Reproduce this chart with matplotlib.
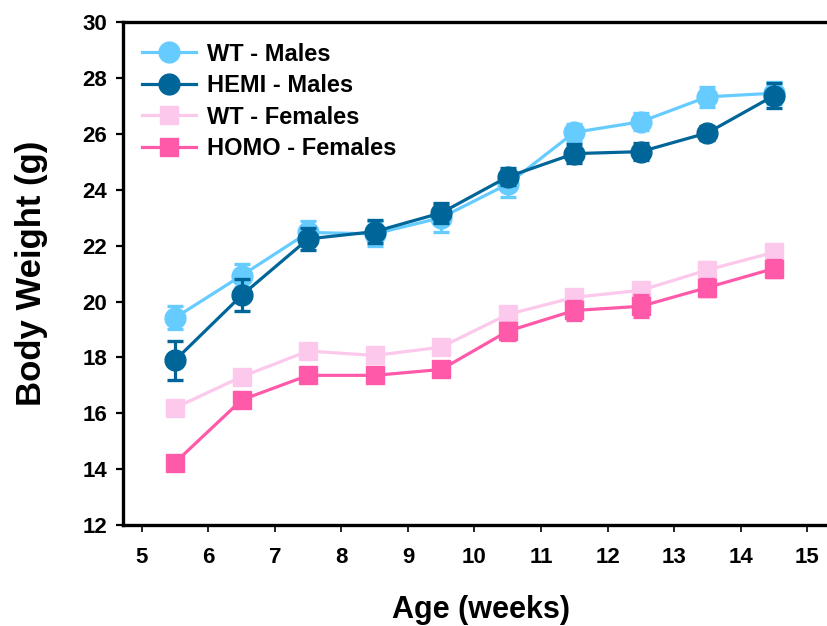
import matplotlib
matplotlib.use('Agg')
import matplotlib.pyplot as plt

plt.rcParams['font.family'] = ['Liberation Sans', 'DejaVu Sans']
plt.rcParams['font.weight'] = 'bold'

# Dados
weeks = [5.5, 6.5, 7.5, 8.5, 9.5, 10.5, 11.5, 12.5, 13.5, 14.5]

wt_males = [19.42, 20.93, 22.47, 22.42, 23.0, 24.2, 26.05, 26.43, 27.32, 27.45]
wt_males_err = [0.42, 0.42, 0.4, 0.45, 0.5, 0.45, 0.3, 0.3, 0.35, 0.4]

hemi_males = [17.9, 20.22, 22.24, 22.5, 23.17, 24.46, 25.29, 25.36, 26.03, 27.36]
hemi_males_err = [0.7, 0.57, 0.4, 0.4, 0.35, 0.3, 0.35, 0.3, 0.25, 0.45]

wt_females = [16.2, 17.31, 18.23, 18.07, 18.37, 19.54, 20.15, 20.4, 21.13, 21.76]
wt_females_err = [0.2, 0.2, 0.2, 0.2, 0.2, 0.25, 0.25, 0.25, 0.3, 0.25]

homo_females = [14.24, 16.48, 17.36, 17.36, 17.57, 18.94, 19.68, 19.83, 20.5, 21.18]
homo_females_err = [0.2, 0.25, 0.25, 0.25, 0.25, 0.3, 0.35, 0.4, 0.3, 0.3]

series = [
    ('WT - Males', wt_males, wt_males_err, '#66ccff', 'o', 15),
    ('HEMI - Males', hemi_males, hemi_males_err, '#006699', 'o', 15),
    ('WT - Females', wt_females, wt_females_err, '#fcc8ec', 's', 12.5),
    ('HOMO - Females', homo_females, homo_females_err, '#ff5aaa', 's', 12.5),
]

fig = plt.figure(figsize=(8.28, 6.26), dpi=100)
ax = fig.add_axes([0.148, 0.161, 0.867, 0.804])

z = 2
for label, vals, errs, color, marker, ms in series:
    ax.errorbar(weeks, vals, yerr=errs, fmt='none', ecolor=color,
                elinewidth=2.3, capsize=5.5, capthick=2.4, zorder=z)
    ax.plot(weeks, vals, color=color, marker=marker, markersize=ms,
            linewidth=2.3, label=label, zorder=z + 0.5)
    z += 1

ax.set_xlim(4.71, 15.5)
ax.set_ylim(12, 30)
ax.set_xticks(range(5, 16))
ax.set_yticks(range(12, 31, 2))

for side in ['left', 'bottom', 'top']:
    ax.spines[side].set_linewidth(2.4)
ax.spines['right'].set_visible(False)

ax.tick_params(axis='y', direction='out', length=5, width=1.6, pad=6,
               labelsize=16)
ax.tick_params(axis='x', direction='out', length=5, width=1.2, pad=11,
               labelsize=16)
for lab in ax.get_xticklabels() + ax.get_yticklabels():
    lab.set_fontweight('bold')

ax.set_xlabel('Age (weeks)', fontsize=22, fontweight='bold', labelpad=19)
ax.set_ylabel('Body Weight (g)', fontsize=25, fontweight='bold', labelpad=25)

leg = ax.legend(loc='upper left', bbox_to_anchor=(-0.006, 1.006), frameon=False,
                prop={'size': 17, 'weight': 'bold'}, handlelength=2.3,
                handletextpad=0.45, labelspacing=0.36, borderaxespad=0.6,
                numpoints=1)

fig.savefig('out.png', dpi=100)
